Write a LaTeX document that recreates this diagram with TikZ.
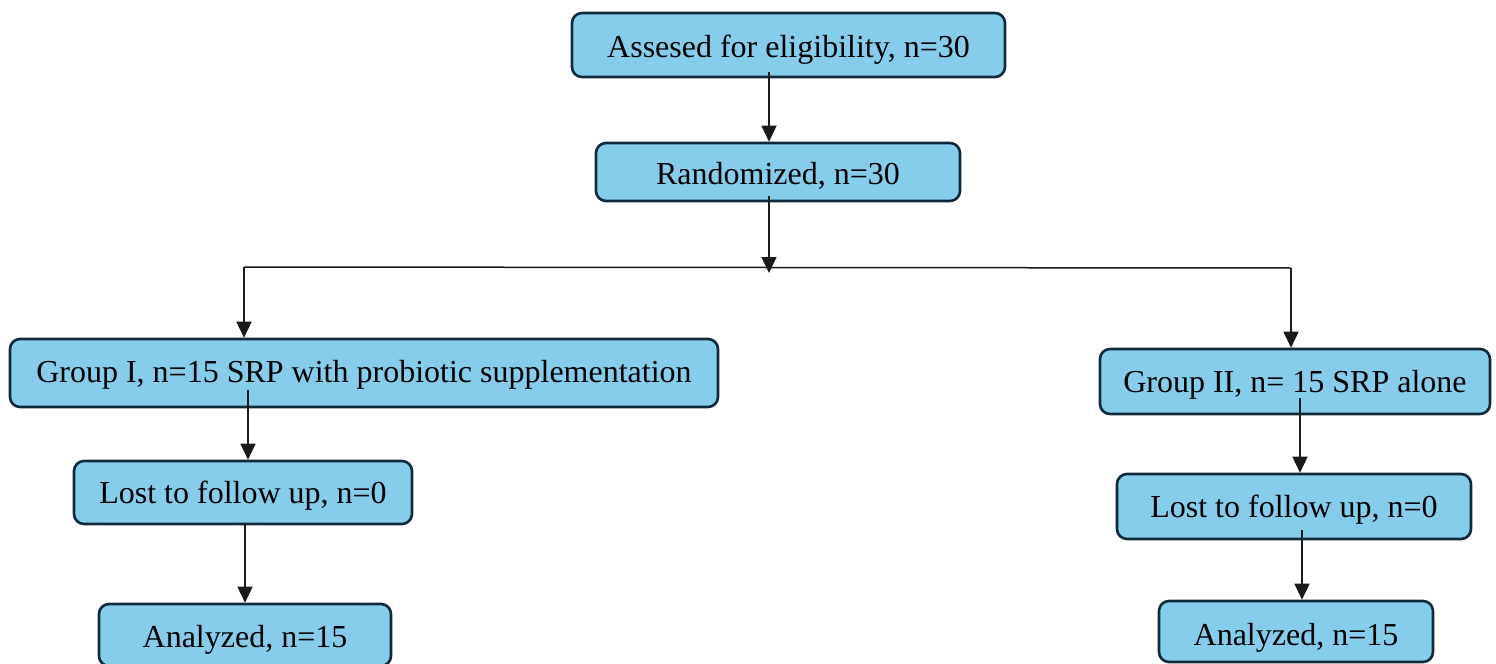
\documentclass[tikz,border=0pt]{standalone}
\usepackage{fontspec}
\setmainfont{Liberation Serif}
\usetikzlibrary{arrows.meta}
\definecolor{boxfill}{HTML}{86CCEB}
\definecolor{boxline}{HTML}{0F2A3A}
\definecolor{linec}{HTML}{1A1A1A}
\begin{document}
\begin{tikzpicture}[x=0.5pt,y=-0.5pt,
  box/.style={draw=boxline, fill=boxfill, line width=1.3pt, rounded corners=5pt,
    inner sep=0pt, text height=13pt, text depth=2pt, font=\fontsize{16}{19}\selectfont},
  conn/.style={draw=linec, line width=0.75pt},
  arr/.style={conn, -{Triangle[length=8pt,width=7.5pt]}}]
\useasboundingbox (0,0) rectangle (1496,664);
\node[box, minimum width=216.5pt, minimum height=32pt, text height=14pt] (a) at (788.5,45) {Assesed for eligibility, n=30};
\node[box, minimum width=182pt, minimum height=29pt, text height=14.5pt] (r) at (778,172) {Randomized, n=30};
\node[box, minimum width=354pt, minimum height=34pt, text height=11pt] (g1) at (364,373) {Group I, n=15 SRP with probiotic supplementation};
\node[box, minimum width=195pt, minimum height=32.5pt] (g2) at (1295,381.5) {Group II, n= 15 SRP alone};
\node[box, minimum width=169pt, minimum height=31.5pt] (l1) at (243,492.5) {Lost to follow up, n=0};
\node[box, minimum width=177pt, minimum height=32.5pt] (l2) at (1294,506.5) {Lost to follow up, n=0};
\node[box, minimum width=146pt, minimum height=31pt, text height=14pt] (an1) at (245,635) {Analyzed, n=15};
\node[box, minimum width=137pt, minimum height=30.5pt, text height=15.5pt] (an2) at (1296,631.5) {Analyzed, n=15};
\coordinate (c1) at (769,72);
\coordinate (c2) at (769,196);
\coordinate (j) at (769,273);
\coordinate (hl) at (244,267);
\coordinate (hr) at (1291,268);
\coordinate (c3) at (248,390);
\coordinate (c4) at (245,524);
\coordinate (c5) at (1300,398);
\coordinate (c6) at (1302,530);
\draw[arr] (c1) -- (c1 |- r.north);
\draw[arr] (c2) -- (j);
\draw[conn] (hl) -- (hr);
\draw[arr] (hl) -- (hl |- g1.north);
\draw[arr] (hr) -- (hr |- g2.north);
\draw[arr] (c3) -- (c3 |- l1.north);
\draw[arr] (c4) -- (c4 |- an1.north);
\draw[arr] (c5) -- (c5 |- l2.north);
\draw[arr] (c6) -- (c6 |- an2.north);
\end{tikzpicture}
\end{document}
